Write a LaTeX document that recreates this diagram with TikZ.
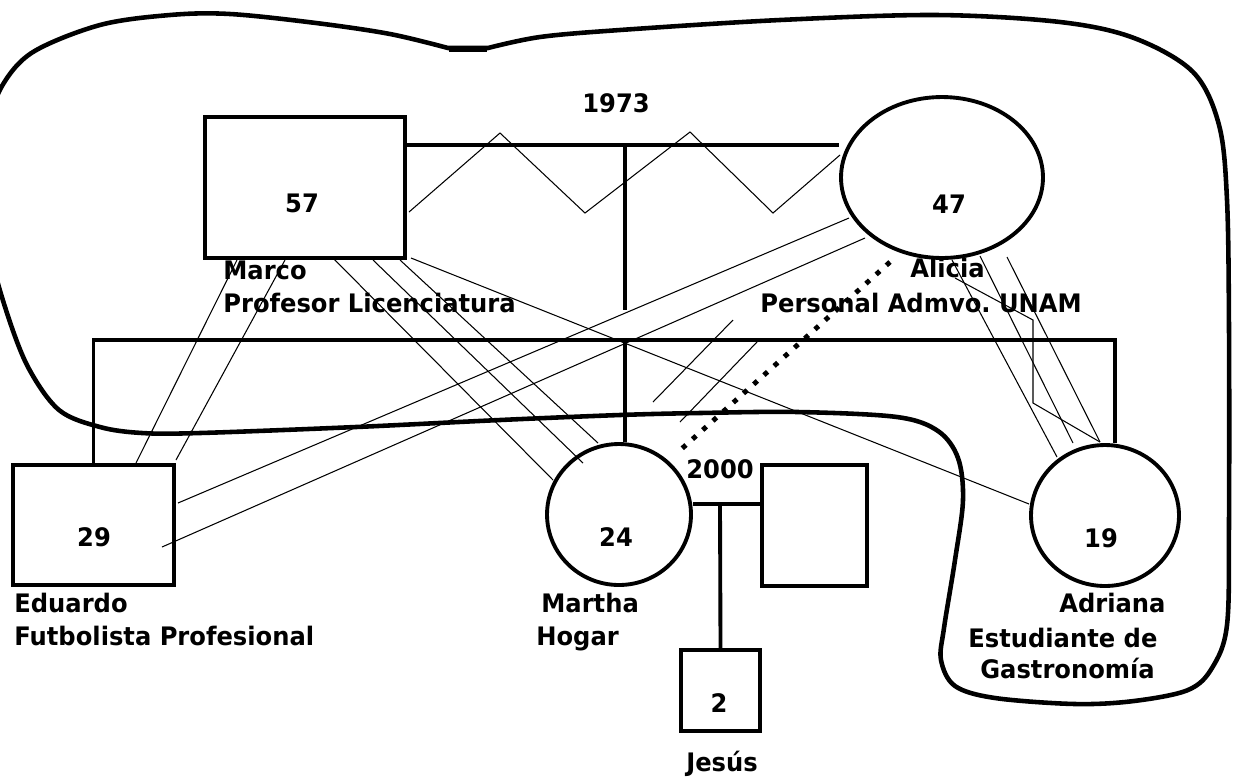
\documentclass[tikz,border=0pt]{standalone}
\usepackage{fontspec}
\setmainfont{DejaVu Sans}[FakeStretch=0.95]
\usetikzlibrary{shapes.geometric,calc}
\frenchspacing
\begin{document}
\begin{tikzpicture}[x=0.02cm,y=-0.02cm,
  thickline/.style={line width=2.2pt},
  thinline/.style={line width=0.6pt},
  boundary/.style={line width=2.6pt, line join=round},
  male/.style={draw, rectangle, line width=2.2pt, inner sep=0},
  female/.style={draw, ellipse, line width=2.2pt, inner sep=0},
  lbl/.style={font=\fontsize{14.5}{17}\selectfont\bfseries, inner sep=0},
  distant/.style={line width=2.8pt, dash pattern=on 2.8pt off 5pt}]
\useasboundingbox (0,0) rectangle (1244,779);
\clip (0,0) rectangle (1244,779);

% boundary
\draw[boundary] plot[smooth, tension=0.55] coordinates {(488,48) (540,37) (620,30) (780,20) (936,15) (1060,22) (1134,38) (1193,72) (1219,125) (1227,200) (1229,330) (1229,520) (1227,625) (1212,668) (1188,690) (1134,701) (1075,704) (995,698) (955,686) (941,660) (944,628) (955,560) (963,500) (958,458) (938,431) (897,417) (798,412) (700,413) (620,415) (500,420) (356,427) (200,433) (142,433) (100,427) (59,410) (28,367) (6,310) (-10,250) (-15,190) (-10,125) (2,86) (33,52) (100,25) (170,15) (230,14) (316,23) (390,34) (448,48)} -- cycle;
\draw[line width=3.4pt] (449,49.5) -- (487,49.5);

% persons
\node[male, minimum width=4.0cm, minimum height=2.82cm] (marco) at (305,187.5) {};
\node[female, minimum width=4.04cm, minimum height=3.22cm] (alicia) at (942,177.5) {};
\node[male, minimum width=3.22cm, minimum height=2.4cm] (eduardo) at (93.5,525) {};
\node[female, minimum width=2.88cm, minimum height=2.82cm] (martha) at (619,514.5) {};
\node[male, minimum width=2.1cm, minimum height=2.42cm] (spouse) at (814.5,525.5) {};
\node[male, minimum width=1.58cm, minimum height=1.62cm] (jesus) at (720.5,690.5) {};
\node[female, minimum width=2.96cm, minimum height=2.82cm] (adriana) at (1105,515.5) {};

% structural lines
\coordinate (m1973) at (625,145);
\coordinate (desc) at (625,310);
\coordinate (sibM) at (625,340);
\coordinate (sibR) at (1115,340);
\coordinate (m2000) at (720,504);
\draw[thickline] (marco.east |- m1973) -- (alicia.west |- m1973);
\draw[thickline] (m1973) -- (desc);
\draw[thickline] (eduardo.north) |- (sibR) -- (sibR |- adriana.north);
\draw[thickline] (sibM) -- (sibM |- martha.north);
\draw[thickline] (martha.east |- m2000) -- (spouse.west |- m2000);
\draw[thickline] (m2000) -- (jesus.north);

% relationship lines
\draw[thinline] ($(marco)+(104,24.5)$) -- (500,133) -- (585,213) -- (690,132) -- (773,213) -- ($(alicia)+(-102,-22.5)$);
\draw[thinline] ($(marco)+(-68,72.5)$) -- ($(eduardo)+(42.5,-62)$);
\draw[thinline] ($(marco)+(-20,72.5)$) -- ($(eduardo)+(82.5,-65)$);
\draw[thinline] ($(alicia)+(-93,40.5)$) -- ($(eduardo)+(84.5,-22)$);
\draw[thinline] ($(alicia)+(-77,60.5)$) -- ($(eduardo)+(68.5,22)$);
\draw[thinline] ($(marco)+(28,70.5)$) -- ($(martha)+(-66,-34.5)$);
\draw[thinline] ($(marco)+(68,72.5)$) -- ($(martha)+(-36,-51.5)$);
\draw[thinline] ($(marco)+(95,72.5)$) -- ($(martha)+(-21,-71.5)$);
\draw[thinline] ($(marco)+(106,70.5)$) -- ($(adriana)+(-76,-11.5)$);
\draw[thinline] ($(alicia)+(10,82.5)$) -- ($(adriana)+(-48,-58.5)$);
\draw[thinline] ($(alicia)+(38,78.5)$) -- ($(adriana)+(-32,-72.5)$);
\draw[thinline] ($(alicia)+(65,79.5)$) -- ($(adriana)+(-5,-73.5)$);
\draw[thinline] ($(alicia)+(13,100.5)$) -- (1033,320) -- (1033,403) -- ($(adriana)+(-5,-73.5)$);
\coordinate (s1a) at (733,320); \coordinate (s1b) at (653,402);
\coordinate (s2a) at (757,342); \coordinate (s2b) at (680,422);
\draw[thinline] (s1a) -- (s1b);
\draw[thinline] (s2a) -- (s2b);
\draw[distant] ($(alicia)+(-52,84.5)$) -- ($(martha)+(58,-61.5)$);

% texts
\node[lbl, anchor=base] (n57) at (302,212) {57};
\node[lbl, anchor=base] (n47) at (949,213) {47};
\node[lbl, anchor=base] (n29) at (94,546) {29};
\node[lbl, anchor=base] (n24) at (616,546) {24};
\node[lbl, anchor=base] (n19) at (1101,547) {19};
\node[lbl, anchor=base] (n2) at (719,712) {2};
\node[lbl, anchor=base] (y1973) at (616,112) {1973};
\node[lbl, anchor=base] (y2000) at (720,478) {2000};
\node[lbl, anchor=base west] (tmarco) at (223,279) {Marco};
\node[lbl, anchor=base west] (tmarco2) at (223,312) {Profesor Licenciatura};
\node[lbl, anchor=base west] (talicia) at (910,277) {Alicia};
\node[lbl, anchor=base west] (talicia2) at (760,312) {Personal Admvo. UNAM};
\node[lbl, anchor=base west] (tedu) at (14,612) {Eduardo};
\node[lbl, anchor=base west] (tedu2) at (14,645) {Futbolista Profesional};
\node[lbl, anchor=base west] (tmartha) at (541,612) {Martha};
\node[lbl, anchor=base west] (tmartha2) at (536,645) {Hogar};
\node[lbl, anchor=base west] (tadri) at (1059,612) {Adriana};
\node[lbl, anchor=base west] (tadri2) at (968,647) {Estudiante de};
\node[lbl, anchor=base west] (tadri3) at (980,678) {Gastronomía};
\node[lbl, anchor=base] (tjesus) at (722,771) {Jesús};
\end{tikzpicture}
\end{document}
